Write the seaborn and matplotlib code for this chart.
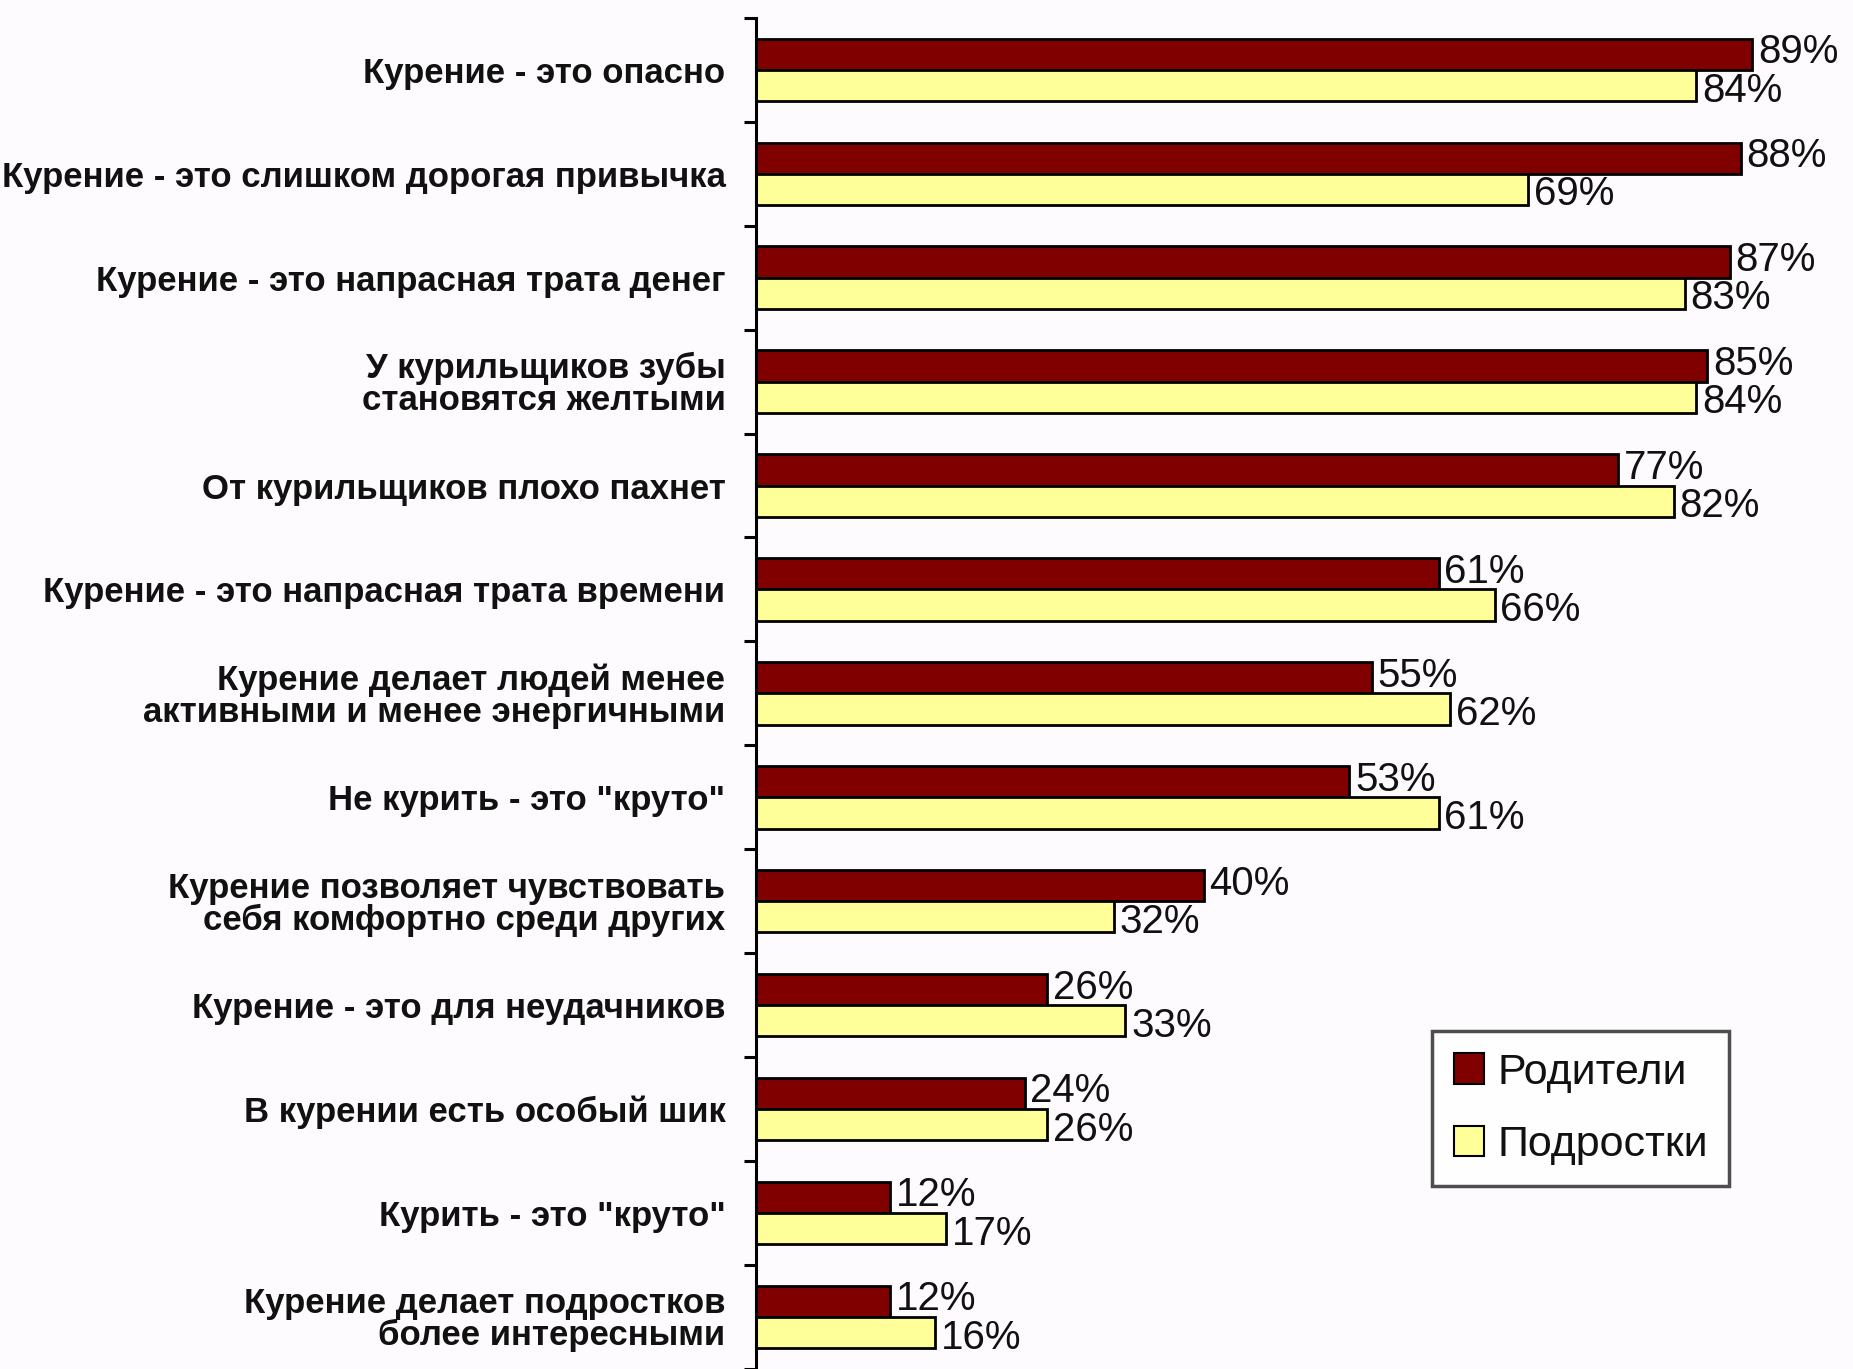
import matplotlib
matplotlib.use("Agg")
import matplotlib.pyplot as plt
import seaborn as sns
import pandas as pd
import numpy as np
from matplotlib.ticker import FixedLocator

categories = [
    "Курение - это опасно",
    "Курение - это слишком дорогая привычка",
    "Курение - это напрасная трата денег",
    "У курильщиков зубы\nстановятся желтыми",
    "От курильщиков плохо пахнет",
    "Курение - это напрасная трата времени",
    "Курение делает людей менее\nактивными и менее энергичными",
    "Не курить - это \"круто\"",
    "Курение позволяет чувствовать\nсебя комфортно среди других",
    "Курение - это для неудачников",
    "В курении есть особый шик",
    "Курить - это \"круто\"",
    "Курение делает подростков\nболее интересными",
]
parents = [89, 88, 87, 85, 77, 61, 55, 53, 40, 26, 24, 12, 12]
teens = [84, 69, 83, 84, 82, 66, 62, 61, 32, 33, 26, 17, 16]
series_names = ["Родители", "Подростки"]
colors = ["#800000", "#FFFF99"]

df = pd.DataFrame({
    "cat": categories * 2,
    "val": parents + teens,
    "grp": [series_names[0]] * len(categories) + [series_names[1]] * len(categories),
})

sns.set_theme(style="white")
plt.rcParams["font.family"] = ["Liberation Sans Narrow", "Liberation Sans", "DejaVu Sans"]
bg = "#fdfbfd"

fig = plt.figure(figsize=(18.53, 13.69), dpi=100, facecolor=bg)
ax = fig.add_axes([0.408, 0.0, 0.592, 0.987], facecolor=bg)

sns.barplot(data=df, y="cat", x="val", hue="grp", order=categories,
            hue_order=series_names, palette=colors, saturation=1, orient="h", width=0.6,
            edgecolor="black", linewidth=2.0, ax=ax, legend=True)

ax.set_xlim(0, 98)
ax.set_ylim(len(categories) - 0.5, -0.5)
ax.set_xlabel("")
ax.set_ylabel("")
ax.set_xticks([])

for s in ["top", "right", "bottom"]:
    ax.spines[s].set_visible(False)
ax.spines["left"].set_color("black")
ax.spines["left"].set_linewidth(2.2)

ax.tick_params(axis="y", which="major", length=0, pad=22)
ax.yaxis.set_minor_locator(FixedLocator(np.arange(-0.5, len(categories) + 0.5, 1.0)))
ax.tick_params(axis="y", which="minor", length=9, width=2.2, color="black", left=True)

for lbl in ax.get_yticklabels():
    lbl.set_fontsize(25)
    lbl.set_fontweight("bold")
    lbl.set_color("#111111")
    lbl.set_horizontalalignment("right")
    lbl.set_multialignment("right")
    lbl.set_linespacing(0.95)

for i, (p, t) in enumerate(zip(parents, teens)):
    ax.text(p + 0.5, i - 0.17, f"{p}%", va="center", ha="left", fontsize=29, color="#111111")
    ax.text(t + 0.5, i + 0.2, f"{t}%", va="center", ha="left", fontsize=29, color="#111111")

leg = ax.legend(loc="upper left", bbox_to_anchor=(0.597, 0.266), frameon=True,
                fontsize=31, handlelength=0.7, handleheight=0.7, handletextpad=0.3,
                labelspacing=0.75, borderpad=0.5, fancybox=False)
leg.get_frame().set_edgecolor("#222222")
leg.get_frame().set_linewidth(2.5)
leg.get_frame().set_facecolor("white")
for h in leg.legend_handles:
    h.set_edgecolor("black")
    h.set_linewidth(1.5)
for t in leg.get_texts():
    t.set_color("#111111")

fig.savefig("out.png", dpi=100, facecolor=bg)
